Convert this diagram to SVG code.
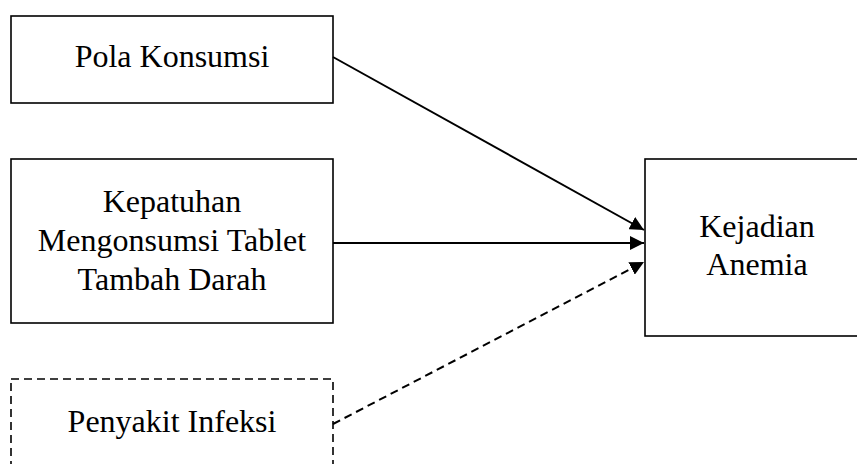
<svg xmlns="http://www.w3.org/2000/svg" width="857" height="464" viewBox="0 0 857 464">
<style>
.box{fill:#fff;stroke:#000;stroke-width:1.6}
.dash{stroke-dasharray:8 5}
.t{font-family:"Liberation Serif","Times New Roman",serif;font-size:32px;fill:#000;text-anchor:middle}
.c{stroke:#000;stroke-width:2;fill:none}
</style>
<defs>
<marker id="a" viewBox="0 0 12 12" refX="12" refY="6" markerWidth="14" markerHeight="14" orient="auto" markerUnits="userSpaceOnUse">
<path d="M0,0 L12,6 L0,12 z" fill="#000"/>
</marker>
</defs>
<g id="n1">
<rect class="box" x="11" y="16" width="322" height="87"/>
<text class="t" x="172" y="67">Pola Konsumsi</text>
</g>
<g id="n2">
<rect class="box" x="11" y="159" width="322" height="164"/>
<text class="t" x="172" y="212">Kepatuhan</text>
<text class="t" x="172" y="251">Mengonsumsi Tablet</text>
<text class="t" x="172" y="290">Tambah Darah</text>
</g>
<g id="n3">
<rect class="box dash" x="11" y="379" width="322" height="100"/>
<text class="t" x="172" y="432">Penyakit Infeksi</text>
</g>
<g id="n4">
<rect class="box" x="645" y="159" width="230" height="177"/>
<text class="t" x="757" y="237">Kejadian</text>
<text class="t" x="757" y="275">Anemia</text>
</g>
<g id="connectors">
<line class="c" x1="333" y1="57" x2="644" y2="230" marker-end="url(#a)"/>
<line class="c" x1="333" y1="243" x2="644" y2="243" marker-end="url(#a)"/>
<line class="c dash" x1="333" y1="424" x2="644" y2="262" marker-end="url(#a)"/>
</g>
</svg>
